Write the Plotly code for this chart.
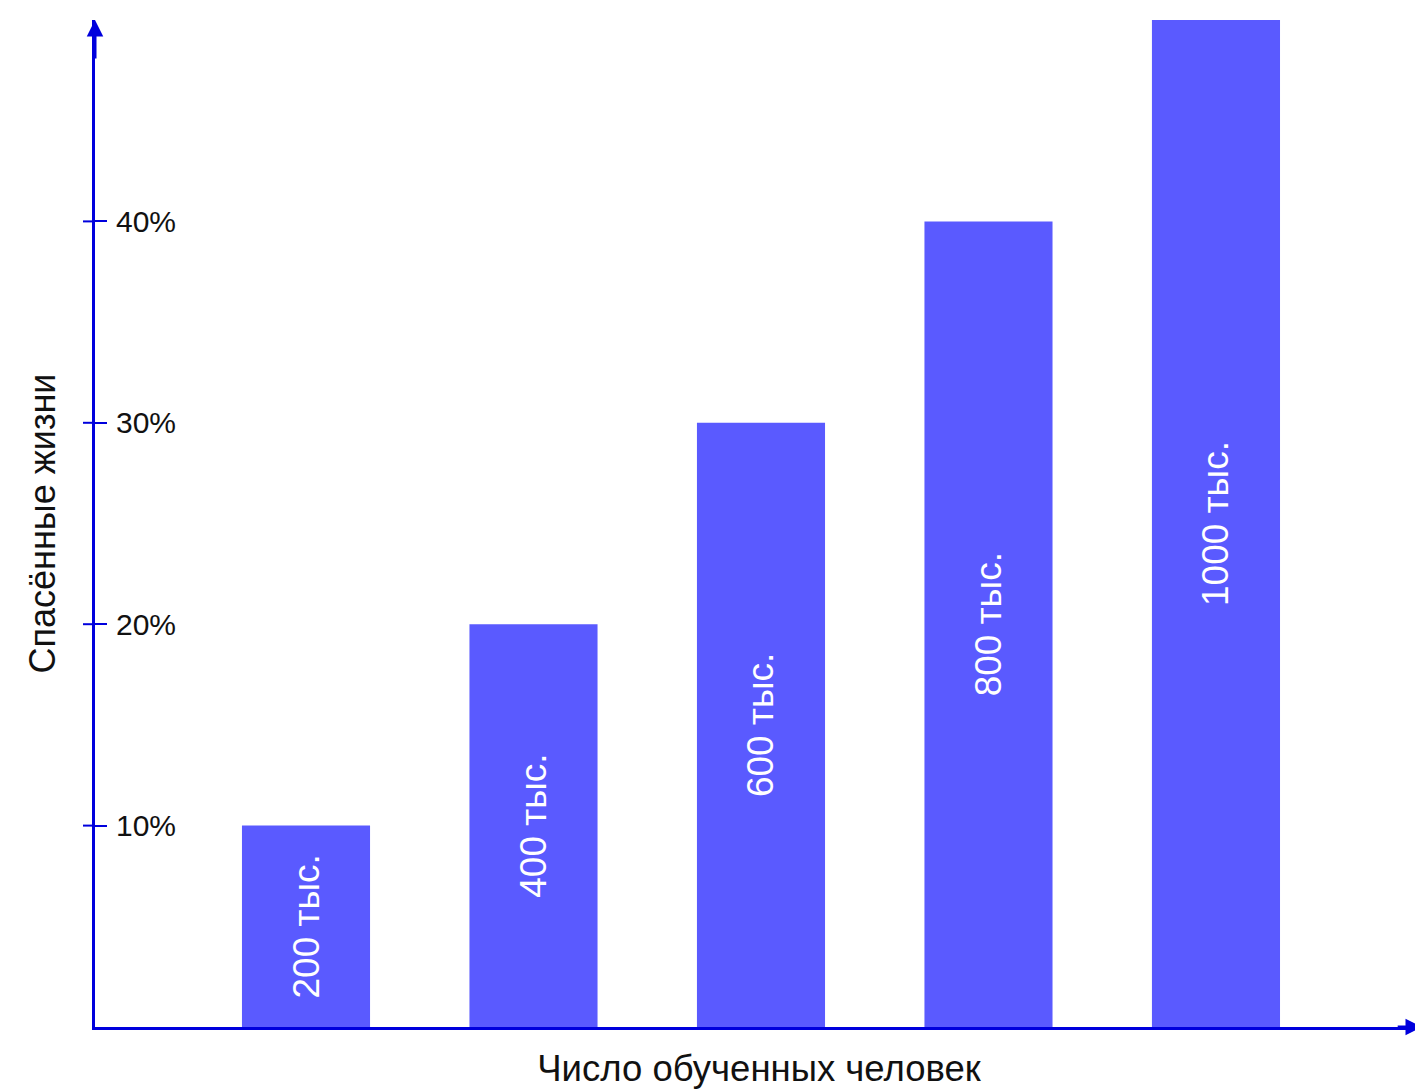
import plotly.graph_objects as go

categories = ["200 тыс.", "400 тыс.", "600 тыс.", "800 тыс.", "1000 тыс."]
saved_pct = [10, 20, 30, 40, 50]
tick_vals = [10, 20, 30, 40]
tick_text = ["10%", "20%", "30%", "40%"]
x_title = "Число обученных человек"
y_title = "Спасённые жизни"

AXIS = "#0000dd"
BAR = "#5a5aff"
FONT = "Arial, Liberation Sans, sans-serif"

fig = go.Figure()
fig.add_trace(go.Bar(
    x=list(range(len(categories))),
    y=saved_pct,
    text=categories,
    textposition="inside",
    insidetextanchor="middle",
    textangle=-90,
    textfont=dict(color="white", size=37, family=FONT),
    marker=dict(color=BAR, line=dict(width=0)),
    hoverinfo="skip",
    cliponaxis=False,
))

fig.update_layout(
    width=1415, height=1081,
    margin=dict(l=87, r=0, t=12, b=62),
    paper_bgcolor="white", plot_bgcolor="white",
    bargap=0.437,
    showlegend=False,
    font=dict(family=FONT, color="#111111"),
    xaxis=dict(
        range=[-0.9275, 4.910],
        showgrid=False, zeroline=False,
        showline=True, linecolor=AXIS, linewidth=3,
        showticklabels=False, ticks="",
        title=dict(text=x_title, font=dict(size=36.5, family=FONT, color="#111111"), standoff=33),
    ),
    yaxis=dict(
        range=[0, 50],
        showgrid=False, zeroline=False,
        showline=True, linecolor=AXIS, linewidth=3,
        tickvals=tick_vals, ticktext=tick_text,
        ticks="inside", ticklen=12, tickwidth=2, tickcolor=AXIS,
        ticklabelposition="inside",
        ticklabelstandoff=12,
        tickfont=dict(size=30, family=FONT, color="#111111"),
        title=dict(text=y_title, font=dict(size=36, family=FONT, color="#111111"), standoff=50),
    ),
)

# outer half of the crossing tick marks
for v in tick_vals:
    fig.add_shape(type="line", xref="paper", yref="y",
                  x0=-12 / 1328, x1=0, y0=v, y1=v,
                  line=dict(color=AXIS, width=2), layer="above")

# axis arrowheads
fig.add_annotation(xref="paper", yref="paper", x=0, y=1, ax=0, ay=40,
                   text="", showarrow=True, arrowhead=2, arrowsize=1.1,
                   arrowwidth=3, arrowcolor=AXIS)
fig.add_annotation(xref="paper", yref="paper", x=1.025, y=0, ax=-60, ay=0,
                   text="", showarrow=True, arrowhead=2, arrowsize=1.1,
                   arrowwidth=3, arrowcolor=AXIS)

fig.write_html("out.html")
